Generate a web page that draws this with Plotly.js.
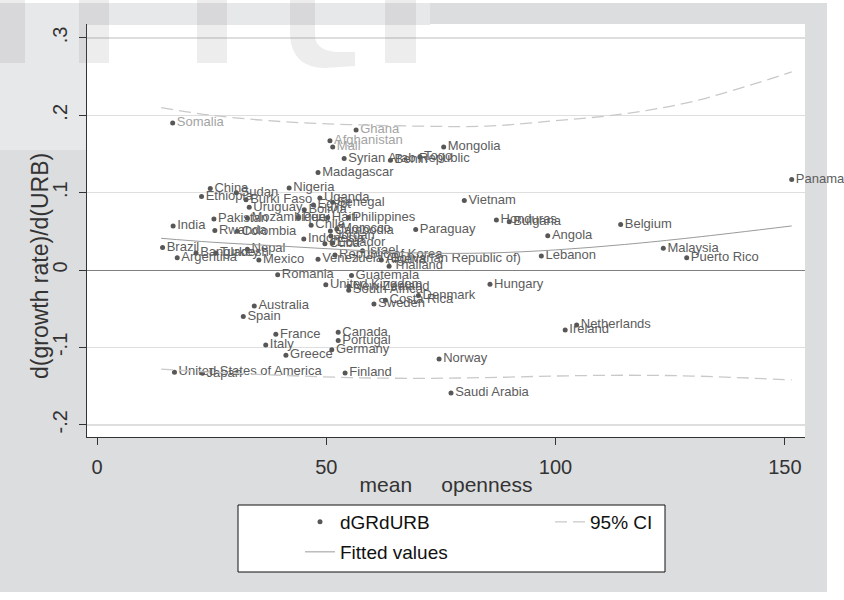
<!DOCTYPE html>
<html><head><meta charset="utf-8">
<script src="https://cdn.plot.ly/plotly-3.0.1.min.js"></script>
<style>html,body{margin:0;padding:0;background:#fff}#chart{width:844px;height:600px}</style>
</head><body><div id="chart"></div>
<script>
const countries = ["Somalia","Ghana","Afghanistan","Mali","Mongolia","Syrian Arab Republic","Benin","Togo","Madagascar","Panama",
"Nigeria","China","Sudan","Ethiopia","Burki Faso","Uganda","Vietnam","Senegal","Egypt","Uruguay",
"Bolivia","Peru","Haiti","Philippines","Pakistan","Mozambique","Honduras","Bulgaria","Belgium","Chile",
"India","Paraguay","Cambodia","Morocco","Rwanda","Colombia","Angola","Jordan","Indonesia","Ecuador",
"Cuba","Brazil","Malaysia","Nepal","Israel","Bangladesh","Turkey","Republic of Korea","Lebanon","Argentina",
"Puerto Rico","Venezuela (Bolivarian Republic of)","Mexico","Algeria","Thailand","Romania","Guatemala","Hungary","United Kingdom","New Zealand",
"South Africa","Denmark","Costa Rica","Sweden","Australia","Spain","Ireland","Netherlands","Canada","France",
"Portugal","Italy","Germany","Greece","Norway","United States of America","Japan","Finland","Saudi Arabia"];
const openness = [16.5,56.5,50.8,51.4,75.6,53.9,64.0,70.4,48.2,151.5,
41.9,24.7,30.4,22.8,32.5,48.6,80.1,51.4,47.2,33.2,
45.2,43.9,50.3,54.8,25.5,32.8,87.1,89.9,114.2,46.7,
16.6,69.5,50.9,52.3,25.7,30.6,98.3,51.0,45.1,51.4,
49.7,14.3,123.5,32.8,57.9,21.6,25.9,51.9,96.9,17.5,
128.6,48.2,35.3,62.0,63.7,39.4,55.5,85.7,49.9,54.9,
54.9,70.1,62.9,60.4,34.3,31.9,102.1,104.6,52.6,39.0,
52.6,36.8,51.2,41.2,74.6,16.9,23.0,54.1,77.2];
const dGRdURB = [0.190,0.181,0.167,0.159,0.159,0.144,0.142,0.146,0.126,0.117,
0.106,0.1055,0.100,0.095,0.091,0.093,0.090,0.0875,0.084,0.081,
0.078,0.068,0.068,0.068,0.066,0.067,0.0646,0.0624,0.059,0.058,
0.057,0.0525,0.0504,0.053,0.051,0.050,0.0443,0.044,0.040,0.035,
0.034,0.029,0.028,0.027,0.025,0.022,0.022,0.0194,0.018,0.016,
0.016,0.014,0.013,0.013,0.005,-0.006,-0.007,-0.0185,-0.019,-0.021,
-0.026,-0.033,-0.039,-0.044,-0.0465,-0.060,-0.0775,-0.071,-0.0805,-0.083,
-0.091,-0.097,-0.103,-0.110,-0.115,-0.132,-0.1335,-0.133,-0.159];
const fadedLabels = ["Somalia","Ghana","Afghanistan","Mali"];

const fitX    = [14, 25, 40, 55, 70, 85, 100, 115, 130, 151.5];
const fitted  = [0.041, 0.036, 0.031, 0.026, 0.022, 0.022, 0.026, 0.033, 0.042, 0.057];
const ciUpper = [0.210, 0.200, 0.192, 0.188, 0.186, 0.186, 0.193, 0.202, 0.218, 0.256];
const ciLower = [-0.128, -0.132, -0.136, -0.139, -0.140, -0.139, -0.137, -0.136, -0.137, -0.142];

const xTicks = [0, 50, 100, 150];
const yTicks = [-0.2, -0.1, 0, 0.1, 0.2, 0.3];
const yTickText = ["-.2", "-.1", "0", ".1", ".2", ".3"];

// layout geometry (pixels)
const L = 87, R = 805, T = 24, B = 437;
const PW = R - L, PH = B - T;
const px = v => (v - L) / PW;
const py = v => (B - v) / PH;
const FONT = "Liberation Sans, Arial, Helvetica, sans-serif";

const labelColors = countries.map(c => fadedLabels.includes(c) ? "#a3a3a3" : "#5c5c5c");

const traces = [
  {type: "scatter", mode: "markers+text", name: "dGRdURB", legend: "legend",
   x: openness, y: dGRdURB, text: countries, textposition: "middle right",
   textfont: {family: FONT, size: 13, color: labelColors},
   marker: {size: 5, color: "#575757"}, cliponaxis: false, hoverinfo: "text"},
  {type: "scatter", mode: "lines", name: "95% CI", legend: "legend",
   x: fitX, y: ciUpper, line: {color: "#c9c9c9", width: 1.3, dash: "12px,6px", shape: "spline"}},
  {type: "scatter", mode: "lines", name: "95% CI lower", showlegend: false,
   x: fitX, y: ciLower, line: {color: "#c9c9c9", width: 1.3, dash: "12px,6px", shape: "spline"}},
  {type: "scatter", mode: "lines", name: "Fitted values", legend: "legend2",
   x: fitX, y: fitted, line: {color: "#9a9a9a", width: 1, shape: "spline"}}
];

const barFill = "rgba(110,110,118,0.12)";
const bar = (a, b) => ({type: "rect", xref: "paper", yref: "paper", layer: "above",
  x0: px(a), x1: px(b), y0: py(63), y1: py(0), line: {width: 0}, fillcolor: barFill});
const P = (x, y) => px(x).toFixed(4) + "," + py(y).toFixed(4);
const cPath = "M" + P(290,0) + " L" + P(290,35) + " Q" + P(292,68) + " " + P(325,68) +
  " L" + P(355,66) + " L" + P(355,52) + " L" + P(336,52) + " Q" + P(315,50) + " " + P(315,35) +
  " L" + P(315,0) + " Z";

const shapes = [
  {type: "rect", xref: "paper", yref: "paper", layer: "below", x0: px(827), x1: px(850), y0: py(610), y1: py(-10), line: {width: 0}, fillcolor: "#ffffff"},
  {type: "rect", xref: "paper", yref: "paper", layer: "below", x0: px(-10), x1: px(850), y0: py(610), y1: py(592), line: {width: 0}, fillcolor: "#ffffff"},
  {type: "rect", xref: "paper", yref: "paper", layer: "below", x0: px(-10), x1: px(850), y0: py(3), y1: py(-10), line: {width: 0}, fillcolor: "#ffffff"},
  {type: "rect", xref: "paper", yref: "paper", layer: "below", x0: px(-10), x1: px(430), y0: py(25), y1: py(3), line: {width: 0}, fillcolor: "#e7e8e9"},
  {type: "rect", xref: "paper", yref: "paper", layer: "below", x0: px(-10), x1: px(86), y0: py(150), y1: py(3), line: {width: 0}, fillcolor: "#e7e8e9"},
  bar(0, 25), bar(79, 109), bar(197, 227), bar(385, 416),
  {type: "path", xref: "paper", yref: "paper", layer: "above", path: cPath, line: {width: 0}, fillcolor: barFill},
  {type: "rect", xref: "paper", yref: "paper", layer: "below", x0: px(238), x1: px(665), y0: py(572), y1: py(505), line: {width: 1, color: "#111"}, fillcolor: "#ffffff"}
];

const layout = {
  width: 844, height: 600,
  margin: {l: L, r: 844 - R, t: T, b: 600 - B, pad: 0},
  paper_bgcolor: "#dcdddf", plot_bgcolor: "#ffffff",
  font: {family: FONT, color: "#333"},
  showlegend: true,
  xaxis: {range: [-2.18, 154.4], tickvals: xTicks, ticktext: xTicks.map(String),
    ticks: "outside", ticklen: 7, tickwidth: 1, tickcolor: "#333",
    showline: true, linecolor: "#333", linewidth: 1, mirror: false,
    showgrid: false, zeroline: false, ticklabelstandoff: 5,
    tickfont: {family: FONT, size: 20, color: "#333"},
    title: {text: "mean\u00a0\u00a0\u00a0\u00a0\u00a0openness", font: {family: FONT, size: 21, color: "#333"}, standoff: 0}},
  yaxis: {range: [-0.2158, 0.318], tickvals: yTicks, ticktext: yTickText, tickangle: -90,
    ticks: "outside", ticklen: 7, tickwidth: 1, tickcolor: "#333",
    showline: true, linecolor: "#333", linewidth: 1,
    showgrid: true, gridcolor: "#dedede", gridwidth: 1.6,
    zeroline: true, zerolinecolor: "#808080", zerolinewidth: 1,
    ticklabelstandoff: 4,
    tickfont: {family: FONT, size: 20, color: "#333"}},
  annotations: [
    {text: "d(growth rate)/d(URB)", xref: "paper", yref: "paper", x: px(40), y: py(266),
     textangle: -90, showarrow: false, font: {family: FONT, size: 23, color: "#333"}, xanchor: "center", yanchor: "middle"}
  ],
  legend: {orientation: "h", x: px(300), y: py(503), xanchor: "left", yanchor: "top",
    bgcolor: "rgba(0,0,0,0)", borderwidth: 0, entrywidth: 205, entrywidthmode: "pixels",
    font: {family: FONT, size: 19, color: "#111"}},
  legend2: {orientation: "h", x: px(300), y: py(533), xanchor: "left", yanchor: "top",
    bgcolor: "rgba(0,0,0,0)", borderwidth: 0,
    font: {family: FONT, size: 19, color: "#111"}},
  shapes: shapes
};

Plotly.newPlot("chart", traces, layout, {displayModeBar: false, staticPlot: true});
</script></body></html>
